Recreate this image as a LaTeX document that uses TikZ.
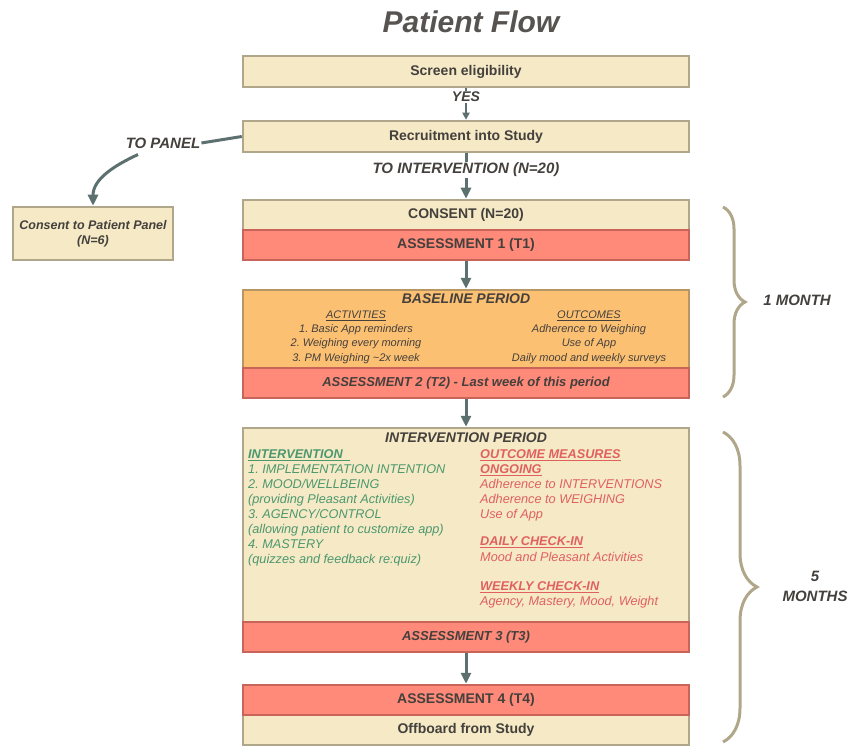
\documentclass[tikz,border=0pt]{standalone}
\usepackage{fontspec}
\setmainfont{Liberation Sans}
\usetikzlibrary{arrows.meta,decorations.pathreplacing}
\frenchspacing

\definecolor{beige}{RGB}{245,233,198}
\definecolor{beigeline}{RGB}{176,166,138}
\definecolor{salmon}{RGB}{255,138,122}
\definecolor{salmonline}{RGB}{201,100,90}
\definecolor{peach}{RGB}{252,192,115}
\definecolor{peachline}{RGB}{181,150,100}
\definecolor{flowgrey}{RGB}{92,112,112}
\definecolor{inkgrey}{RGB}{68,64,60}
\definecolor{ivgreen}{RGB}{76,152,110}
\definecolor{omred}{RGB}{224,96,96}

\newcommand{\fs}[2]{\fontsize{#1}{#2}\selectfont}

\tikzset{
  box/.style={draw=beigeline, fill=beige, line width=2.5pt, minimum width=446pt,
    minimum height=31pt, inner sep=0pt, text=inkgrey, font=\fs{14}{16}\bfseries},
  redbox/.style={box, draw=salmonline, fill=salmon},
  flow/.style={draw=flowgrey, line width=3pt, -{Triangle[width=10pt,length=11pt]}},
  lbl/.style={text=inkgrey, font=\fs{15}{17}\bfseries\itshape, fill=white, inner sep=1pt},
  heading/.style={text=inkgrey, font=\fs{14}{16}\bfseries\itshape},
  column/.style={text=inkgrey, font=\fs{11}{14.3}\itshape, align=center},
  ivtext/.style={text=ivgreen, font=\fs{12.7}{15}\itshape, align=left, anchor=north west, inner sep=0pt},
  omtext/.style={ivtext, text=omred},
  span/.style={decorate, draw=beigeline, line width=3pt},
  monthlbl/.style={text=inkgrey, font=\fs{15}{20}\bfseries\itshape, align=center}
}

\begin{document}
\begin{tikzpicture}[x=1pt,y=-1pt]
\useasboundingbox (0,0) rectangle (864,746);

\node[text=inkgrey!90, font=\fs{30}{34}\bfseries\itshape] (title) at (471,22) {Patient Flow};

\node[box] (screen) at (466,71.5) {Screen eligibility};
\node[box] (recruit) at (466,136.5) {Recruitment into Study};
\node[box, minimum height=30pt] (consent) at (466,215) {CONSENT (N=20)};
\node[redbox, minimum height=30pt] (assess1) at (466,245) {ASSESSMENT 1 (T1)};
\node[box, fill=peach, draw=peachline, minimum height=78pt] (baseline) at (466,329) {};
\node[redbox, minimum height=30pt, font=\fs{13}{15}\bfseries\itshape] (assess2) at (466,383)
  {ASSESSMENT 2 (T2) - Last week of this period};
\node[box, minimum height=194pt] (intervention) at (466,525) {};
\node[redbox, minimum height=30pt, font=\fs{13}{15}\bfseries\itshape] (assess3) at (466,637) {ASSESSMENT 3 (T3)};
\node[box, minimum height=30pt] (offboard) at (466,730) {Offboard from Study};
\node[redbox, minimum height=30pt] (assess4) at (466,700) {ASSESSMENT 4 (T4)};

\node[box, minimum width=160pt, minimum height=53pt, font=\fs{12.5}{15}\bfseries\itshape, align=center]
  (panel) at (93,233.5) {Consent to Patient Panel\\(N=6)};

% connectors
\draw[flow, line width=2pt, -{Triangle[width=7pt,length=7pt]}] (screen) -- node[lbl, font=\fs{14}{16}\bfseries\itshape, pos=0.28] (yes) {YES} (recruit);
\draw[flow] (recruit) -- node[lbl, pos=0.37] (tointerv) {TO INTERVENTION (N=20)} (consent);
\node[lbl] (topanel) at (163,143) {TO PANEL};
\draw[flowgrey, line width=3pt] (recruit.west) -- (topanel.east);
\draw[flow] ([xshift=-25pt,yshift=-5pt]topanel.south) to[out=205,in=90] (panel.north);
\draw[flow] (assess1) -- (baseline);
\draw[flow] (assess2) -- (intervention);
\draw[flow] (assess3) -- (assess4);

% baseline period
\node[heading] (basehead) at (466,299) {BASELINE PERIOD};
\node[column] (activities) at (356,337) {\underline{ACTIVITIES}\\1. Basic App reminders\\2. Weighing every morning\\3. PM Weighing \textasciitilde 2x week};
\node[column] (outcomes) at (589,337) {\underline{OUTCOMES}\\Adherence to Weighing\\Use of App\\Daily mood and weekly surveys};

% intervention period
\node[heading] (ivhead) at (466,438) {INTERVENTION PERIOD};
\node[ivtext] (ivlist) at (248,449.5) {\textbf{\underline{INTERVENTION\ \ }}\\1. IMPLEMENTATION INTENTION\\2. MOOD/WELLBEING\\(providing Pleasant Activities)\\3. AGENCY/CONTROL\\(allowing patient to customize app)\\4. MASTERY\\(quizzes and feedback re:quiz)};
\node[omtext] (ongoing) at (480,449.5) {\textbf{\underline{OUTCOME MEASURES}}\\\textbf{\underline{ONGOING}}\\Adherence to INTERVENTIONS\\Adherence to WEIGHING\\Use of App};
\node[omtext] (daily) at (480,536.5) {\textbf{\underline{DAILY CHECK-IN}}\\[1pt]Mood and Pleasant Activities};
\node[omtext] (weekly) at (480,581.5) {\textbf{\underline{WEEKLY CHECK-IN}}\\Agency, Mastery, Mood, Weight};

% time spans
\draw[span, decoration={brace, amplitude=22pt}] (723,207) -- (723,397);
\node[monthlbl] (onemonth) at (797,300) {1 MONTH};
\draw[span, decoration={brace, amplitude=34pt}] (723,432) -- (723,742);
\node[monthlbl] (fivemonths) at (815,586) {5\\MONTHS};
\end{tikzpicture}
\end{document}
